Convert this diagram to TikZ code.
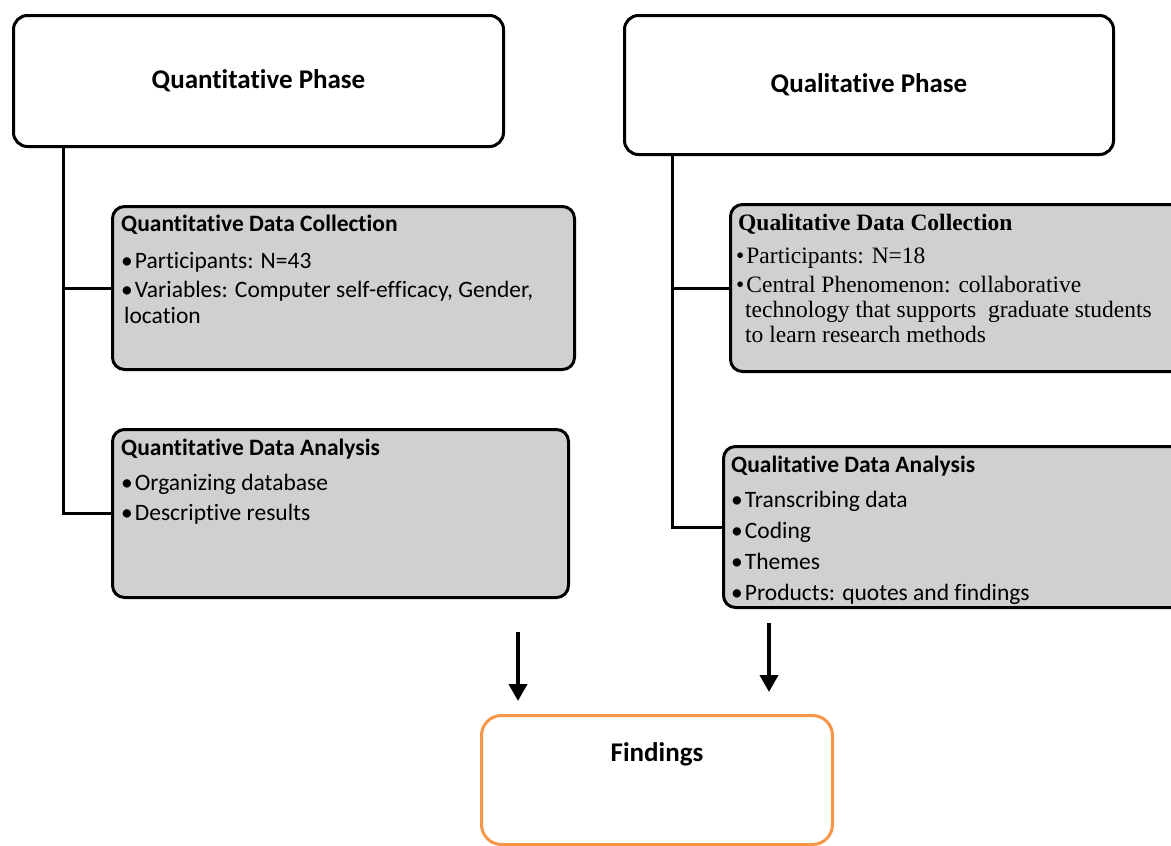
\documentclass[tikz,border=0pt]{standalone}
\usepackage{fontspec}
\setmainfont{Carlito}[Ligatures={NoCommon,NoDiscretionary}]
\newfontfamily\tnr{Liberation Serif}
\usetikzlibrary{arrows.meta}
\definecolor{boxgray}{RGB}{208,208,208}
\definecolor{findorange}{RGB}{247,150,70}
\newcommand{\bul}{•\kern2pt}
\begin{document}
\begin{tikzpicture}[x=1pt,y=-1pt,
  phasebox/.style={draw=black, line width=3pt, rounded corners=14pt, fill=white, anchor=north west, inner sep=0pt, font=\fontsize{27}{32}\selectfont\bfseries},
  graybox/.style={draw=black, line width=3pt, rounded corners=12pt, fill=boxgray, anchor=north west, inner sep=0pt},
  findbox/.style={draw=findorange, line width=3pt, rounded corners=20pt, fill=white, anchor=north west, inner sep=0pt},
  txt/.style={anchor=base west, inner sep=0pt, font=\fontsize{23.5}{28}\selectfont},
  ttl/.style={txt, font=\fontsize{23.5}{28}\selectfont\bfseries},
  stxt/.style={anchor=base west, inner sep=0pt, font=\fontsize{23.5}{28}\selectfont\tnr},
  sttl/.style={anchor=base west, inner sep=0pt, font=\fontsize{23.5}{28}\selectfont\tnr\bfseries},
  conn/.style={draw=black, line width=3pt},
  arr/.style={draw=black, line width=4pt, -{Triangle[width=18pt,length=17pt]}}
]
\useasboundingbox (0,0) rectangle (1171,846);
\clip (0,0) rectangle (1171,846);

% phase boxes
\node[phasebox, minimum width=490pt, minimum height=131pt] (qp) at (12,14) {Quantitative Phase};
\node[phasebox, minimum width=489pt, minimum height=139pt] (ql) at (623,14) {Qualitative Phase};

% gray boxes
\node[graybox, minimum width=462pt, minimum height=163pt] (qdc) at (111,205) {};
\node[graybox, minimum width=456pt, minimum height=168pt] (qda) at (111,428) {};
\node[graybox, minimum width=470pt, minimum height=167pt] (qldc) at (729,203) {};
\node[graybox, minimum width=480pt, minimum height=161pt] (qlda) at (722,445) {};

% findings
\node[findbox, minimum width=351pt, minimum height=129pt] (find) at (480,714) {};
\node[anchor=base, inner sep=0pt, font=\fontsize{27}{32}\selectfont\bfseries] (findtxt) at (657,761) {Findings};

% connectors
\coordinate (tl) at (63,0);
\coordinate (tr) at (672,0);
\draw[conn] (tl |- qp.south) -- (tl |- qda.west) -- (qda.west);
\draw[conn] (tl |- qdc.west) -- (qdc.west);
\draw[conn] (tr |- ql.south) -- (tr |- qlda.west) -- (qlda.west);
\draw[conn] (tr |- qldc.west) -- (qldc.west);

% arrows
\coordinate (a1s) at (518,632);
\coordinate (a1e) at (518,701);
\coordinate (a2s) at (769,623);
\coordinate (a2e) at (769,692);
\draw[arr] (a1s) -- (a1e);
\draw[arr] (a2s) -- (a2e);

% quantitative data collection text
\node[ttl] (t1) at (121,231) {Quantitative Data Collection};
\node[txt] (t2) at (121,268) {\bul Participants: N=43};
\node[txt] (t3) at (121,297) {\bul Variables: Computer self-efficacy, Gender,};
\node[txt] (t4) at (124,323) {location};

% quantitative data analysis text
\node[ttl] (t5) at (121,455) {Quantitative Data Analysis};
\node[txt] (t6) at (121,490) {\bul Organizing database};
\node[txt] (t7) at (121,520) {\bul Descriptive results};

% qualitative data collection text
\node[sttl] (t8) at (738,230) {Qualitative Data Collection};
\node[stxt] (t9) at (736,263) {\bul Participants: N=18};
\node[stxt] (t10) at (736,292) {\bul Central Phenomenon: collaborative};
\node[stxt] (t11) at (745,317) {technology that supports\ \ graduate students};
\node[stxt] (t12) at (745,342) {to learn research methods};

% qualitative data analysis text
\node[ttl] (t13) at (731,472) {Qualitative Data Analysis};
\node[txt] (t14) at (731,507) {\bul Transcribing data};
\node[txt] (t15) at (731,538) {\bul Coding};
\node[txt] (t16) at (731,569) {\bul Themes};
\node[txt] (t17) at (731,600) {\bul Products: quotes and findings};
\end{tikzpicture}
\end{document}
